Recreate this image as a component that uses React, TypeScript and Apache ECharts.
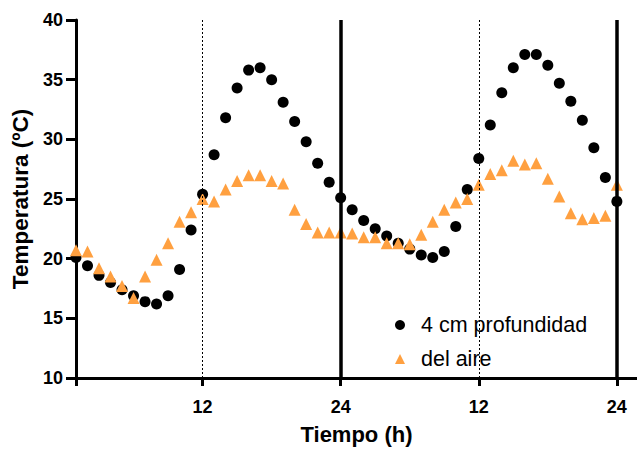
import React, { useEffect, useRef } from "react";
import * as echarts from "echarts";

// Hour of the two-day record (1..48)
const hours: number[] = Array.from({ length: 48 }, (_, i) => i + 1);

// Soil temperature at 4 cm depth (ºC)
const soil4cm: number[] = [
  20.1, 19.4, 18.6, 18.0, 17.4, 16.9, 16.4, 16.2, 16.9, 19.1, 22.4, 25.4,
  28.7, 31.8, 34.3, 35.8, 36.0, 35.0, 33.1, 31.5, 29.8, 28.0, 26.4, 25.1,
  24.1, 23.2, 22.5, 21.9, 21.3, 20.8, 20.3, 20.1, 20.6, 22.7, 25.8, 28.4,
  31.2, 33.9, 36.0, 37.1, 37.1, 36.2, 34.7, 33.2, 31.6, 29.3, 26.8, 24.8,
];

// Air temperature (ºC)
const air: number[] = [
  20.7, 20.6, 19.2, 18.5, 17.7, 16.7, 18.5, 19.9, 21.3, 23.1, 23.9, 25.0,
  24.8, 25.8, 26.5, 27.0, 27.0, 26.5, 26.3, 24.1, 22.9, 22.2, 22.2, 22.2,
  22.1, 21.8, 21.8, 21.3, 21.3, 21.2, 22.0, 23.1, 24.1, 24.7, 25.0, 26.2,
  27.1, 27.4, 28.2, 27.9, 28.0, 26.7, 25.2, 23.8, 23.3, 23.4, 23.6, 26.2,
];

// Clock-time ticks on the x axis (the second day restarts at 12, 24)
const xTickValues: number[] = [12, 24, 36, 48];
const noonLines: number[] = [12, 36];
const midnightLines: number[] = [24, 48];

const seriesNames = ["4 cm profundidad", "del aire"];
const FONT = "Liberation Sans, Arial, sans-serif";

export default function App() {
  const ref = useRef<HTMLDivElement>(null);

  useEffect(() => {
    if (!ref.current) return;
    const chart = echarts.init(ref.current, undefined, { renderer: "svg" });

    const pairs = (vals: number[]) => hours.map((h, i) => [h, vals[i]]);

    chart.setOption({
      animation: false,
      backgroundColor: "#ffffff",
      textStyle: { fontFamily: FONT },
      grid: { left: 76, top: 20, right: 0, bottom: 66 },
      legend: {
        orient: "vertical",
        left: 390,
        top: 309,
        itemWidth: 10,
        itemHeight: 10,
        itemGap: 12,
        data: seriesNames,
        textStyle: {
          fontFamily: FONT,
          fontSize: 21.5,
          color: "#000",
          padding: [0, 0, 0, 11],
        },
      },
      xAxis: {
        type: "value",
        min: 1,
        max: 49.75,
        name: "Tiempo (h)",
        nameLocation: "middle",
        nameGap: 45,
        nameTextStyle: {
          fontFamily: FONT,
          fontWeight: "bold",
          fontSize: 22,
          color: "#000",
        },
        axisLine: { lineStyle: { color: "#000", width: 3 } },
        axisTick: {
          customValues: [1, ...xTickValues],
          length: 8,
          lineStyle: { color: "#000", width: 3 },
        },
        axisLabel: {
          customValues: xTickValues,
          formatter: (v: number) => String(v > 24 ? v - 24 : v),
          fontFamily: FONT,
          fontWeight: "bold",
          fontSize: 18,
          color: "#000",
          margin: 20,
        },
        splitLine: { show: false },
      },
      yAxis: {
        type: "value",
        min: 10,
        max: 40,
        interval: 5,
        name: "Temperatura (ºC)",
        nameLocation: "middle",
        nameGap: 42,
        nameTextStyle: {
          fontFamily: FONT,
          fontWeight: "bold",
          fontSize: 22.5,
          color: "#000",
        },
        axisLine: { show: true, lineStyle: { color: "#000", width: 3 } },
        axisTick: { show: true, length: 10, lineStyle: { color: "#000", width: 3 } },
        axisLabel: {
          fontFamily: FONT,
          fontWeight: "bold",
          fontSize: 18,
          color: "#000",
          margin: 13,
        },
        splitLine: { show: false },
      },
      series: [
        {
          name: seriesNames[0],
          type: "scatter",
          symbol: "circle",
          symbolSize: 11,
          itemStyle: { color: "#000000", opacity: 1 },
          data: pairs(soil4cm),
          markLine: {
            silent: true,
            symbol: "none",
            label: { show: false },
            data: [
              ...noonLines.map((x) => ({
                xAxis: x,
                lineStyle: { color: "#000", width: 1, type: [2, 2] },
              })),
              ...midnightLines.map((x) => ({
                xAxis: x,
                lineStyle: { color: "#000", width: 3.5, type: "solid" },
              })),
            ],
          },
        },
        {
          name: seriesNames[1],
          type: "scatter",
          symbol: "triangle",
          symbolSize: 12,
          itemStyle: { color: "#FFA040", opacity: 1 },
          data: pairs(air),
        },
      ],
    });

    return () => chart.dispose();
  }, []);

  return (
    <div
      ref={ref}
      style={{ position: "absolute", left: 0, top: 0, width: 637, height: 450 }}
    />
  );
}
